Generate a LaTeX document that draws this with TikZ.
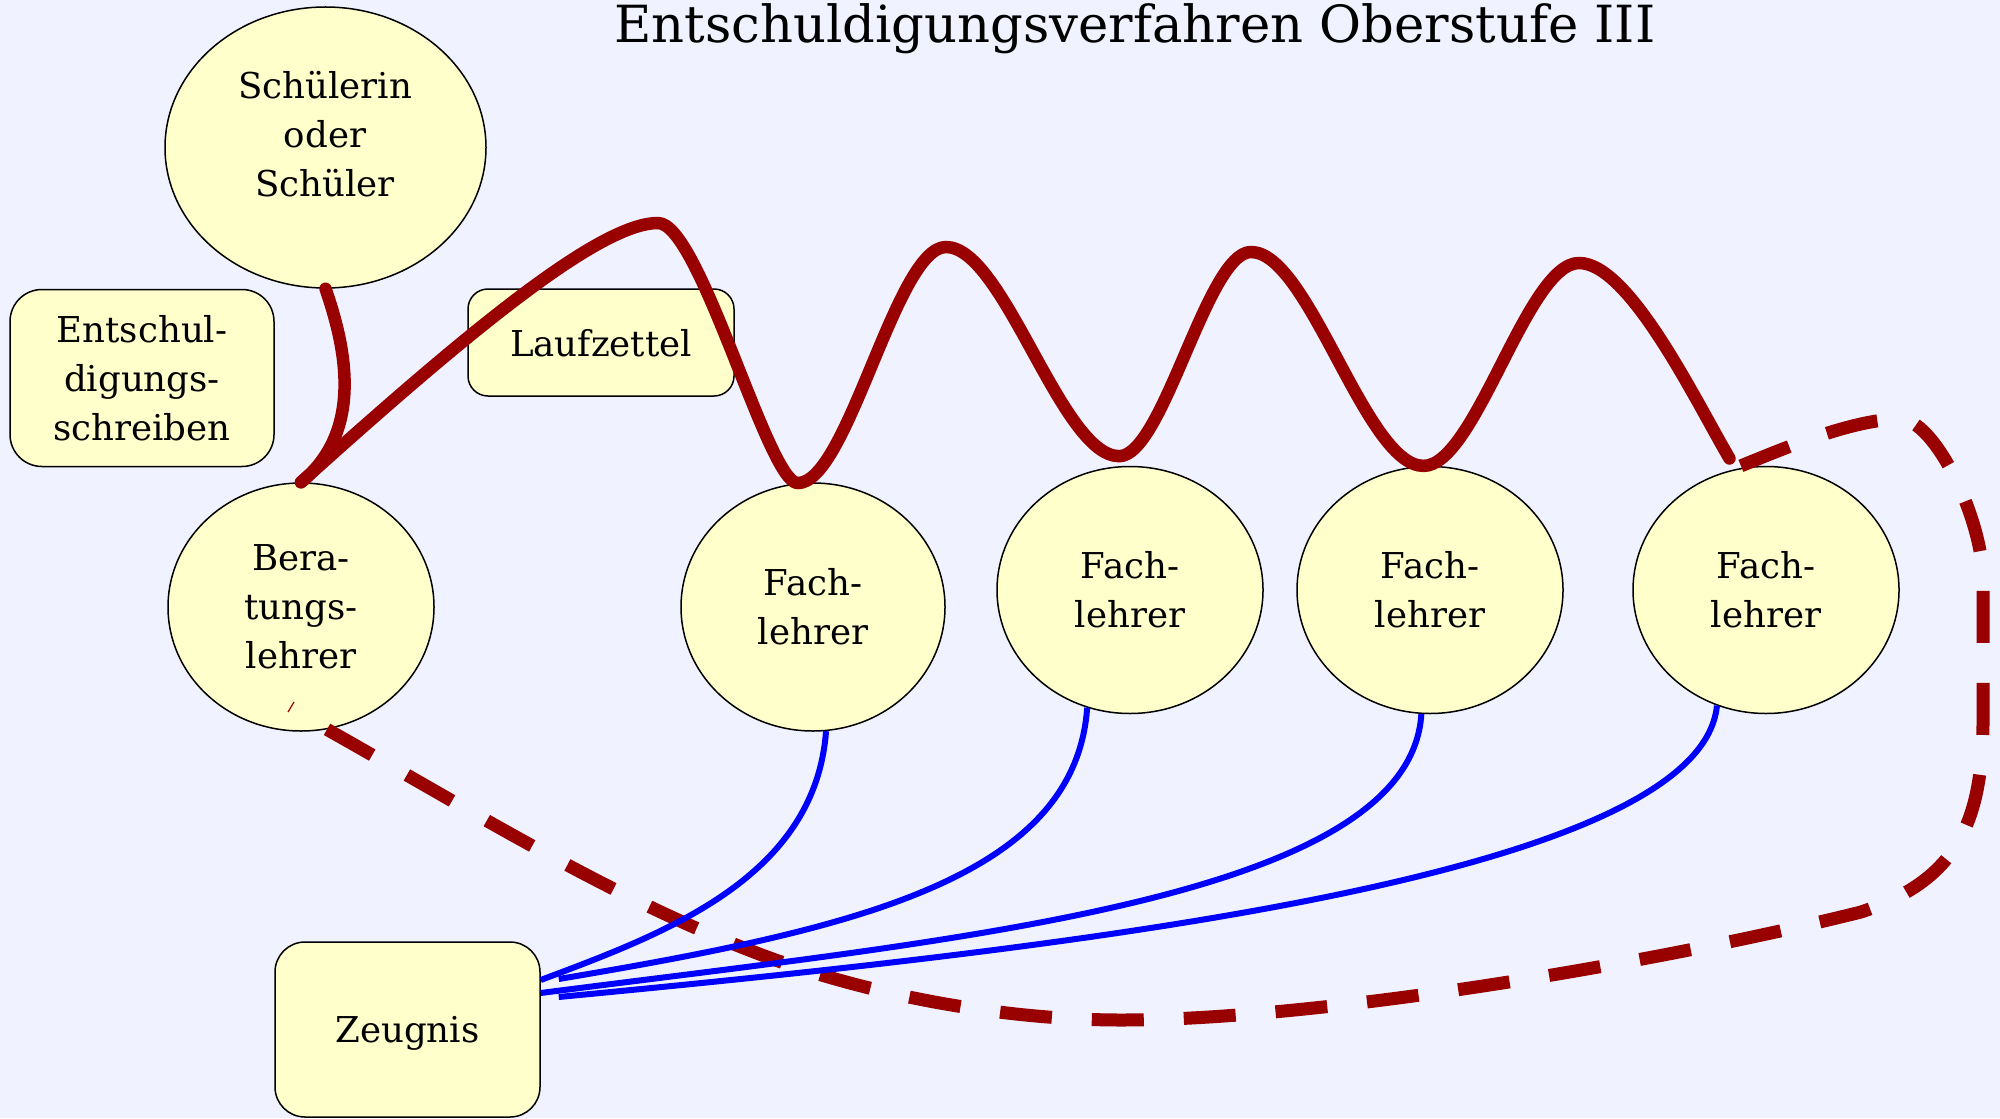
\documentclass[tikz,border=0pt]{standalone}
\usepackage{fontspec}
\setmainfont{DejaVu Serif}
\usetikzlibrary{shapes.geometric}
\definecolor{bgc}{HTML}{F0F3FF}
\definecolor{fillc}{HTML}{FFFFCC}
\definecolor{dred}{HTML}{990000}
\definecolor{blu}{HTML}{0000FF}
\begin{document}
\begin{tikzpicture}[x=0.5pt,y=0.5pt,
  txt/.style={font=\fontsize{17.8pt}{24.5pt}\selectfont, align=center, text=black},
  ell/.style={ellipse, draw=black, line width=0.75pt, fill=fillc, inner sep=0pt, txt},
  box/.style={rectangle, draw=black, line width=0.75pt, fill=fillc, inner sep=0pt, txt},
  redline/.style={draw=dred, line width=6.25pt, line cap=round, line join=round},
  reddash/.style={draw=dred, line width=6.5pt, dash pattern=on 26pt off 20pt},
  blueline/.style={draw=blu, line width=3pt},
]
\useasboundingbox[fill=bgc] (0,0) rectangle (2000,-1118);

\node[font=\fontsize{25.6pt}{30pt}\selectfont, anchor=base] (title) at (1135,-43) {Entschuldigungsverfahren Oberstufe III};

\node[ell, minimum width=160.5pt, minimum height=140.5pt] (sch) at (325.5,-147.5) {};
\node[txt] (schtxt) at (325,-134) {Schülerin\\oder\\Schüler};
\node[box, minimum width=132pt, minimum height=88.5pt, rounded corners=16pt] (ent) at (142,-378) {Entschul-\\digungs-\\schreiben};
\node[box, minimum width=133pt, minimum height=53.5pt, rounded corners=10pt, text depth=0pt] (lauf) at (601,-342.5) {Laufzettel};
\node[ell, minimum width=133pt, minimum height=124pt] (ber) at (301,-607) {Bera-\\tungs-\\lehrer};
\node[ell, minimum width=132pt, minimum height=124pt] (f1) at (813,-607) {Fach-\\lehrer};
\node[ell, minimum width=133pt, minimum height=123.5pt] (f2) at (1130,-590) {Fach-\\lehrer};
\node[ell, minimum width=133pt, minimum height=123.5pt] (f3) at (1430,-590) {Fach-\\lehrer};
\node[ell, minimum width=133pt, minimum height=123.5pt] (f4) at (1766,-590) {Fach-\\lehrer};
\node[box, minimum width=132.5pt, minimum height=87.5pt, rounded corners=15pt, text depth=0pt] (zeu) at (407.5,-1029.5) {Zeugnis};

\coordinate (p1) at (658,-223);
\coordinate (p2) at (946,-247);
\coordinate (p3) at (1251,-252);
\coordinate (p4) at (1579,-263);

\draw[redline] (sch.south) .. controls (345,-345) and (365,-430) .. (ber.north);
\draw[redline] (ber.north) .. controls (470,-330) and (600,-223) .. (p1)
  .. controls +(42,0) and +(-30,0) .. (f1.97)
  .. controls +(50,0) and +(-50,0) .. (p2)
  .. controls +(58,0) and +(-58,0) .. ([yshift=5pt]f2.95)
  .. controls +(44,0) and +(-44,0) .. (p3)
  .. controls +(58,0) and +(-58,0) .. (f3.93)
  .. controls +(52,0) and +(-52,0) .. (p4)
  .. controls +(50,0) and +(-35,60) .. ([yshift=6pt]f4.107);

\coordinate (m1) at (770,-958);
\coordinate (b1) at (1121,-1020);
\coordinate (e1) at (1861,-912);
\coordinate (fr) at (1983,-720);
\coordinate (gr) at (1983,-580);
\coordinate (hr) at (1900,-419);
\draw[reddash] (ber.-78) .. controls (477,-814) and (620,-903) .. (m1)
  .. controls +(110,-40) and +(-110,0) .. (b1)
  .. controls +(200,0) and +(-200,-50) .. (e1)
  .. controls +(90,30) and +(0,-110) .. (fr)
  -- (gr)
  .. controls +(0,60) and +(35,0) .. (hr)
  .. controls +(-50,0) and +(45,18) .. (f4.107);
\draw[dred, line width=0.6pt] (288,-712) -- (294,-702);

\draw[blueline] ([yshift=24.75pt]zeu.east) .. controls (660,-935) and (815,-880) .. (f1.-84);
\draw[blueline] ([xshift=9pt,yshift=25.25pt]zeu.east) .. controls (850,-930) and (1075,-880) .. (f2.-110);
\draw[blueline] ([yshift=18.25pt]zeu.east) .. controls (950,-940) and (1410,-900) .. (f3.-94);
\draw[blueline] ([xshift=9pt,yshift=16.25pt]zeu.east) .. controls (1050,-950) and (1700,-880) .. (f4.-113);
\end{tikzpicture}
\end{document}
